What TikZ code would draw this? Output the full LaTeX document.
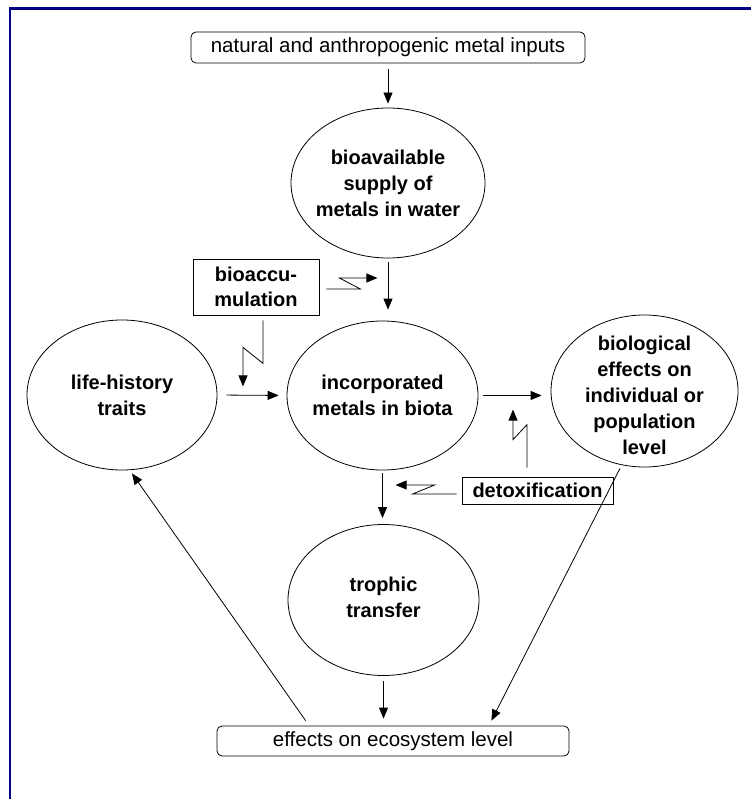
\documentclass[tikz,border=0pt]{standalone}
\usepackage{fontspec}
\setmainfont{Liberation Sans}
\usetikzlibrary{arrows.meta,shapes.geometric,calc}
\definecolor{navyb}{RGB}{0,0,128}
\begin{document}
\begin{tikzpicture}[x=1pt,y=-1pt,
  conn/.style={draw, line width=0.8pt, -{Triangle[length=11pt,width=9pt]}},
  plainline/.style={draw, line width=0.8pt},
  oval/.style={draw, ellipse, line width=0.8pt, inner sep=0pt},
  ovaltext/.style={font=\fontsize{20}{26}\selectfont\bfseries, align=center, inner sep=0pt},
  rbox/.style={draw, rounded corners=5pt, line width=0.8pt, inner sep=0pt, font=\fontsize{20.5}{24}\selectfont},
  sbox/.style={draw, line width=0.8pt, inner sep=0pt, font=\fontsize{20}{24.5}\selectfont\bfseries, align=center},
  frame/.style={draw=navyb}
]
\useasboundingbox (0,0) rectangle (751,799);
% frame
\draw[frame, line width=2pt] (10,799) -- (10,7.2);
\draw[frame, line width=3pt] (9,8.2) -- (751,8.2);

% boxes
\node[rbox, minimum width=394pt, minimum height=31pt] (top) at (388,47.5) {natural and anthropogenic metal inputs};
\node[rbox, minimum width=352pt, minimum height=30pt] (eff) at (393,741) {effects on ecosystem level};
\node[sbox, minimum width=126pt, minimum height=56pt] (bacc) at (256,287) {bioaccu-\\mulation};
\node[sbox, minimum width=151pt, minimum height=27pt] (detox) at (537.5,490.5) {detoxification};

% ellipses
\node[oval, minimum width=194pt, minimum height=150pt] (bioav) at (388,183) {};
\node[ovaltext] (bioavt) at (bioav.center) {bioavailable\\supply of\\metals in water};
\node[oval, minimum width=191pt, minimum height=149pt] (inc) at (382.5,395.5) {};
\node[ovaltext] (inct) at (inc.center) {incorporated\\metals in biota};
\node[oval, minimum width=190pt, minimum height=150pt] (life) at (122,395) {};
\node[ovaltext] (lifet) at (life.center) {life-history\\traits};
\node[oval, minimum width=187pt, minimum height=152pt] (biol) at (644.5,391) {};
\node[ovaltext] (biolt) at (644.5,395) {biological\\effects on\\individual or\\population\\level};
\node[oval, minimum width=191pt, minimum height=151pt] (troph) at (383.5,600) {};
\node[ovaltext] (tropht) at (383.5,597) {trophic\\transfer};

% straight arrows
\draw[conn, shorten <=6pt, shorten >=4pt] (top.south) -- (bioav.north);
\draw[conn, shorten <=4pt, shorten >=11pt] (bioav.south) -- (bioav.south |- inc.north);
\draw[conn, shorten <=3pt, shorten >=6pt] (inc.south) -- (inc.south |- troph.north);
\draw[conn, shorten <=5pt, shorten >=7pt] (troph.south) -- (troph.south |- eff.north);
\draw[conn, shorten <=9pt, shorten >=8pt] (life.east) -- (inc.west);
\draw[conn, shorten <=5pt, shorten >=9pt] (inc.east) -- (inc.east -| biol.west);

% diagonal arrows
\draw[conn] ($(eff.north west)+(89,-5)$) -- ($(life.south)+(10,3)$);
\draw[conn] ($(biol.south)+(-24.5,1)$) -- ($(eff.north east)+(-78,-5)$);

% zigzag arrows
\draw[conn] ($(bacc.east)+(7,2)$) -- ++(34,0) -- ++(-21,-11) -- ++(38,0);
\draw[conn] ($(bacc.south)+(7,5)$) -- ++(0,43) -- ++(-20,-16) -- ++(0,39);
\draw[conn] ($(detox.north)+(-10.5,-9)$) -- ++(0,-43) -- ++(-14,15) -- ++(0,-30);
\draw[conn] ($(detox.west)+(-5,3.5)$) -- ++(-44,0) -- ++(22,-9) -- ++(-39,0);
\end{tikzpicture}
\end{document}
